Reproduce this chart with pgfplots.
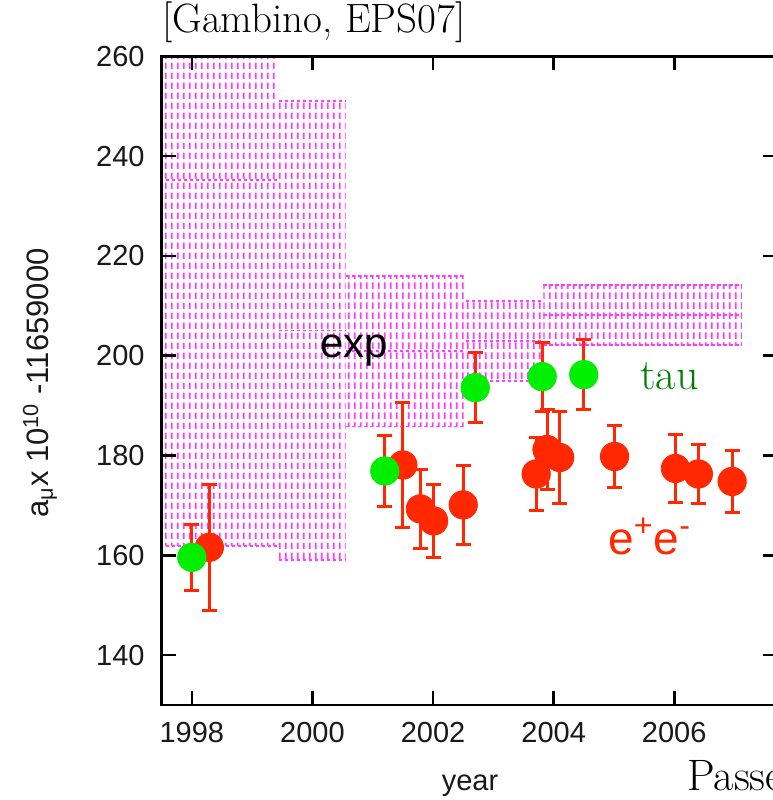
\documentclass[border=0pt]{standalone}
\usepackage{fontspec}
\usepackage{pgfplots}
\pgfplotsset{compat=1.18}
\usepackage{pgfplotstable}
\usetikzlibrary{patterns}

\newfontfamily\arial{Liberation Sans}

\definecolor{eered}{RGB}{255,40,0}
\definecolor{taugreen}{RGB}{0,238,0}
\definecolor{taulabel}{RGB}{0,128,0}
\definecolor{expmag}{RGB}{255,60,255}

% vertical dashed hatching used for the experimental bands
\pgfdeclarepatternformonly{vdashes}{\pgfpointorigin}{\pgfpoint{3.15pt}{5pt}}{\pgfpoint{3.15pt}{5pt}}{%
  \pgfsetlinewidth{0.95pt}%
  \pgfpathmoveto{\pgfpoint{1.575pt}{0.6pt}}%
  \pgfpathlineto{\pgfpoint{1.575pt}{4.1pt}}%
  \pgfusepath{stroke}}

% e+e- based evaluations
\pgfplotstableread{
year    value  err
1998.29 161.6  12.6
2001.50 178.1  12.5
2001.79 169.3  7.9
2002.01 166.9  7.3
2002.50 170.1  7.9
2003.71 176.3  7.4
2003.89 181.2  8.0
2004.10 179.6  9.3
2005.01 179.8  6.2
2006.02 177.4  6.9
2006.40 176.3  5.9
2006.96 174.8  6.2
}\eedata

% tau based evaluations
\pgfplotstableread{
year    value  err
1998.00 159.6  6.6
2001.20 176.9  7.2
2002.70 193.6  7.0
2003.81 195.8  6.9
2004.50 196.2  7.0
}\taudata

% experimental band: x1 x2 low mid high
\newcommand\expbox[5]{%
  \addplot[draw=none, pattern=vdashes, pattern color=expmag]
    coordinates {(#1,#3) (#1,#5) (#2,#5) (#2,#3)} -- cycle;
  \addplot[expmag, line width=0.9pt, dash pattern=on 1.8pt off 1.2pt]
    coordinates {(#1,#3) (#2,#3)};
  \addplot[expmag, line width=0.9pt, dash pattern=on 1.8pt off 1.2pt]
    coordinates {(#1,#4) (#2,#4)};
  \addplot[expmag, line width=0.9pt, dash pattern=on 1.8pt off 1.2pt]
    coordinates {(#1,#5) (#2,#5)};
}

\begin{document}
\begin{tikzpicture}
\begin{axis}[
  at={(0pt,0pt)}, anchor=south west,
  x=30.15pt, y=2.495pt,
  xmin=1997.5, xmax=2007.7, ymin=130, ymax=260,
  axis on top,
  axis line style={line width=1.3pt},
  every tick/.style={black, line width=1.3pt},
  major tick length=7pt,
  tick align=inside,
  xtick={1998,2000,...,2006},
  ytick={140,160,...,260},
  minor tick num=0,
  tick label style={font=\arial\fontsize{14.5}{17}\selectfont, text=black!90},
  /pgf/number format/.cd, 1000 sep={}, assume math mode=true, /pgfplots/.cd,
  xticklabel style={yshift=-5pt},
  yticklabel style={xshift=-5pt},
]
\expbox{1997.37}{1999.44}{161.9}{235.2}{308.5}
\expbox{1999.44}{2000.55}{159.0}{205.05}{251.1}
\expbox{2000.55}{2002.54}{185.8}{200.9}{216.0}
\expbox{2002.54}{2003.83}{195.0}{202.95}{210.9}
\expbox{2003.83}{2007.12}{202.1}{208.15}{214.2}

\addplot[only marks, mark=*, mark size=7.1pt, color=eered,
  mark options={fill=eered, draw=none},
  error bars/.cd, y dir=both, y explicit,
  error bar style={line width=1.5pt, eered},
  error mark options={rotate=90, eered, line width=1.5pt, mark size=3.75pt}]
  table[x=year, y=value, y error=err] {\eedata};

\addplot[only marks, mark=*, mark size=7.1pt, color=taugreen,
  mark options={fill=taugreen, draw=none},
  error bars/.cd, y dir=both, y explicit,
  error bar style={line width=1.5pt, eered},
  error mark options={rotate=90, eered, line width=1.5pt, mark size=3.75pt}]
  table[x=year, y=value, y error=err] {\taudata};
\end{axis}

\node[anchor=base west, inner sep=0pt, font=\fontsize{20.5}{24}\selectfont] at (0pt,336pt) {[Gambino, EPS07]};
\node[anchor=base west, inner sep=0pt, font=\arial\fontsize{21}{24}\selectfont] at (79.15pt,173.5pt) {exp};
\node[anchor=base west, inner sep=0pt, text=taulabel, font=\fontsize{22}{25}\selectfont] at (239.15pt,157.5pt) {tau};
\node[anchor=base west, inner sep=0pt, text=eered, font=\arial\fontsize{23}{26}\selectfont] at (223.15pt,75pt) {e\textsuperscript{+}e\textsuperscript{-}};
\node[anchor=base, inner sep=0pt, text=black!90, font=\arial\fontsize{14.5}{17}\selectfont] at (154.15pt,-42.5pt) {year};
\node[anchor=base west, inner sep=0pt, font=\fontsize{22}{26}\selectfont] at (262.65pt,-42.5pt) {Passe};
\node[rotate=90, inner sep=0pt, text=black!90, font=\arial\fontsize{15.5}{18}\selectfont] at (-60.85pt,161pt) {a\textsubscript{μ}x 10\textsuperscript{10} -11659000};

\pgfresetboundingbox
\useasboundingbox (-80.85pt,-47.5pt) rectangle (305.65pt,352.5pt);
\end{tikzpicture}
\end{document}
